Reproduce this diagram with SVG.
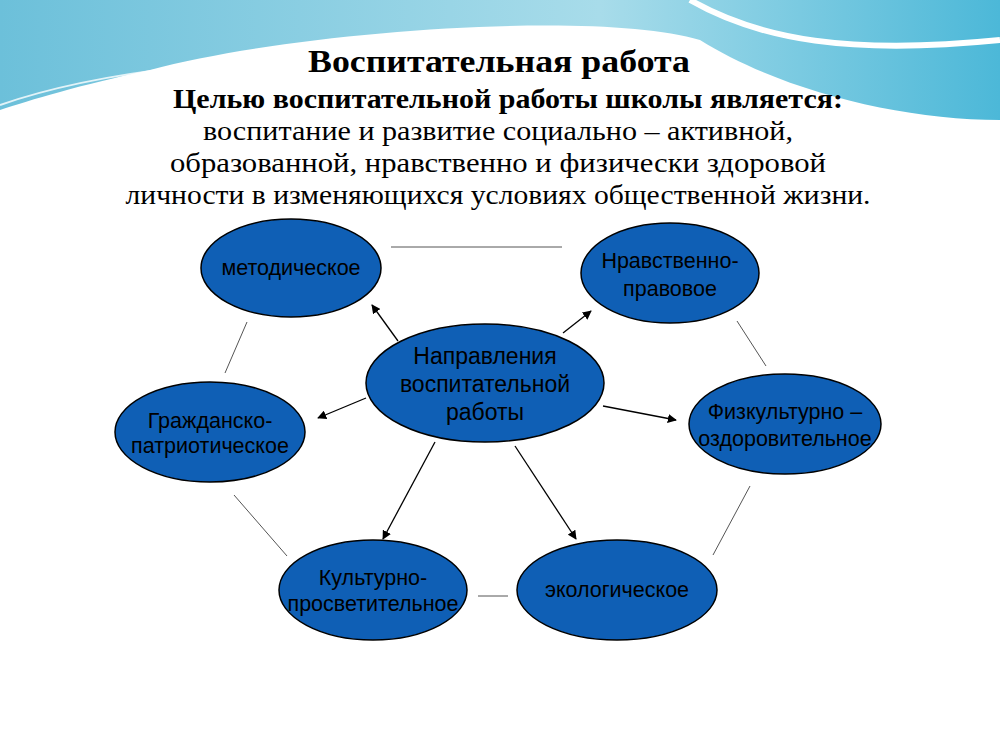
<svg xmlns="http://www.w3.org/2000/svg" width="1000" height="750" viewBox="0 0 1000 750">
<defs>
<linearGradient id="bg" x1="0" y1="0" x2="1" y2="0"><stop offset="0" stop-color="#6cc0da"/><stop offset="0.6" stop-color="#a8dcea"/><stop offset="1" stop-color="#4cb8d8"/></linearGradient>
<marker id="ar" viewBox="0 0 10 10" refX="9" refY="5" markerWidth="7" markerHeight="7" orient="auto"><path d="M0,0 L10,5 L0,10 z" fill="#000"/></marker>
<style>
.n ellipse{fill:#0f5fb5;stroke:#000;stroke-width:1.5}
.n text{font-family:"Liberation Sans",Arial,sans-serif;font-size:21.5px;fill:#000;text-anchor:middle}
.n text.b{font-size:23px}
.t{font-family:"Liberation Serif","Times New Roman",serif;fill:#000;text-anchor:middle}
.c line{stroke:#000;stroke-width:1.3}
.c .l{stroke:#555;stroke-width:1}
</style>
</defs>
<rect width="1000" height="750" fill="#fff"/>
<path d="M0,0 H1000 V120 C900,120 780,90 700,40 C600,10 300,30 150,70 C80,85 30,100 0,110 Z" fill="url(#bg)"/>
<path d="M690,0 C760,40 850,55 1000,40" stroke="#fff" stroke-width="6" fill="none"/>
<path d="M0,105 C100,70 250,55 400,55" stroke="#fff" stroke-width="2" fill="none" opacity="0.8"/>
<text class="t" x="499" y="72" font-size="32" font-weight="bold" textLength="382" lengthAdjust="spacingAndGlyphs">Воспитательная работа</text>
<text class="t" x="508" y="108" font-size="28" font-weight="bold" textLength="670" lengthAdjust="spacingAndGlyphs">Целью воспитательной работы школы является:</text>
<text class="t" x="498" y="140" font-size="28" textLength="590" lengthAdjust="spacingAndGlyphs">воспитание и развитие социально – активной,</text>
<text class="t" x="498" y="172" font-size="28" textLength="656" lengthAdjust="spacingAndGlyphs">образованной, нравственно и физически здоровой</text>
<text class="t" x="498" y="204" font-size="28" textLength="745" lengthAdjust="spacingAndGlyphs">личности в изменяющихся условиях общественной жизни.</text>
<g class="c">
<line x1="398" y1="341" x2="372" y2="305" marker-end="url(#ar)"/>
<line x1="563" y1="333" x2="591" y2="311" marker-end="url(#ar)"/>
<line x1="366" y1="398" x2="318" y2="418" marker-end="url(#ar)"/>
<line x1="603" y1="406" x2="676" y2="420" marker-end="url(#ar)"/>
<line x1="435" y1="442" x2="383" y2="539" marker-end="url(#ar)"/>
<line x1="515" y1="446" x2="576" y2="539" marker-end="url(#ar)"/>
<line class="l" x1="391" y1="247" x2="562" y2="247"/>
<line class="l" x1="737" y1="321" x2="766" y2="366"/>
<line class="l" x1="750" y1="486" x2="713" y2="555"/>
<line class="l" x1="478" y1="596" x2="508" y2="596"/>
<line class="l" x1="234" y1="495" x2="287" y2="556"/>
<line class="l" x1="247" y1="322" x2="225" y2="373"/>
</g>
<g id="center" class="n"><ellipse cx="485" cy="383" rx="119" ry="59"/><text class="b" x="485" y="364">Направления</text><text class="b" x="485" y="392">воспитательной</text><text class="b" x="485" y="420">работы</text></g>
<g id="metod" class="n"><ellipse cx="291" cy="268" rx="90" ry="49"/><text x="291" y="275">методическое</text></g>
<g id="nravs" class="n"><ellipse cx="670" cy="273" rx="89" ry="50"/><text x="670" y="268">Нравственно-</text><text x="670" y="296">правовое</text></g>
<g id="grazh" class="n"><ellipse cx="210" cy="432" rx="95" ry="50"/><text x="210" y="428">Гражданско-</text><text x="210" y="453">патриотическое</text></g>
<g id="fiz" class="n"><ellipse cx="785" cy="424" rx="96" ry="50"/><text x="785" y="419">Физкультурно –</text><text x="785" y="446">оздоровительное</text></g>
<g id="kult" class="n"><ellipse cx="373" cy="590" rx="94" ry="50"/><text x="373" y="585">Культурно-</text><text x="373" y="611">просветительное</text></g>
<g id="eko" class="n"><ellipse cx="617" cy="590" rx="100" ry="50"/><text x="617" y="597">экологическое</text></g>
</svg>
